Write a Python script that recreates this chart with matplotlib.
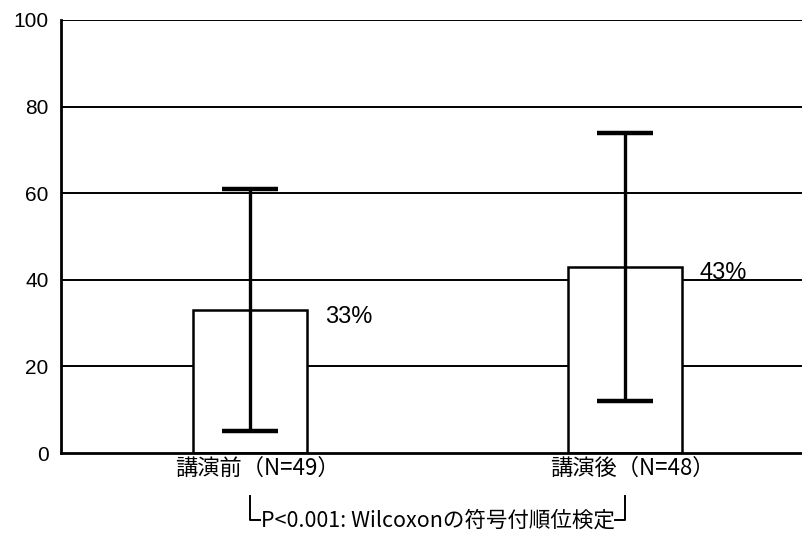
import numpy as np
import matplotlib
matplotlib.use("Agg")
import matplotlib.pyplot as plt

# ---------------------------------------------------------------------------
# Data
# ---------------------------------------------------------------------------
CATEGORIES = ["講演前（N=49）", "講演後（N=48）"]
MEANS      = [33, 43]
ERR_LOW    = [5, 12]      # lower end of error bar
ERR_HIGH   = [61, 74]     # upper end of error bar
VALUE_TXT  = ["33%", "43%"]
Y_TICKS    = [0, 20, 40, 60, 80, 100]
NOTE       = "P<0.001: Wilcoxonの符号付順位検定"

JP_FONT  = ["Noto Sans CJK JP", "DejaVu Sans"]
NUM_FONT = ["Liberation Sans", "DejaVu Sans"]

# ---------------------------------------------------------------------------
# Figure
# ---------------------------------------------------------------------------
fig = plt.figure(figsize=(8.02, 5.33), dpi=100)
ax = fig.add_axes([0.076, 0.150, 0.924, 0.8125])

x = np.arange(len(CATEGORIES))
means = np.array(MEANS, dtype=float)
yerr = np.vstack([means - np.array(ERR_LOW), np.array(ERR_HIGH) - means])

# gridlines
for yv in Y_TICKS[1:]:
    ax.axhline(yv, color="black", lw=1.4, zorder=1)

ax.bar(x, means, width=0.304, color="white", edgecolor="black",
       linewidth=1.8, zorder=2)
ax.errorbar(x, means, yerr=yerr, fmt="none", ecolor="black",
            elinewidth=2.4, capsize=20, capthick=3.2, zorder=3)

for xi, v, t in zip(x, means, VALUE_TXT):
    ax.text(xi + 0.2, v - 1.5, t, ha="left", va="center",
            fontsize=17, family=NUM_FONT)

ax.set_xlim(-0.504, 1.472)
ax.set_ylim(0, 100)
ax.set_xticks(x + 0.02)
ax.set_xticklabels(CATEGORIES, family=JP_FONT, fontsize=16)
ax.set_yticks(Y_TICKS)
ax.set_yticklabels([str(v) for v in Y_TICKS], family=NUM_FONT, fontsize=15)
ax.tick_params(axis="both", length=0)
ax.tick_params(axis="x", pad=3)
ax.tick_params(axis="y", pad=9)

for side in ["top", "right"]:
    ax.spines[side].set_visible(False)
ax.spines["left"].set_linewidth(2)
ax.spines["bottom"].set_linewidth(2)

# significance bracket under the x labels
y_top, y_bot = -9.9, -15.5
ax.plot([x[0], x[0], x[0] + 0.027], [y_top, y_bot, y_bot],
        color="black", lw=1.4, clip_on=False)
ax.plot([x[1], x[1], x[1] - 0.027], [y_top, y_bot, y_bot],
        color="black", lw=1.4, clip_on=False)
ax.text((x[0] + x[1]) / 2, y_bot, NOTE, ha="center", va="center",
        fontsize=15.5, family=JP_FONT)

fig.savefig("out.png", dpi=100)
